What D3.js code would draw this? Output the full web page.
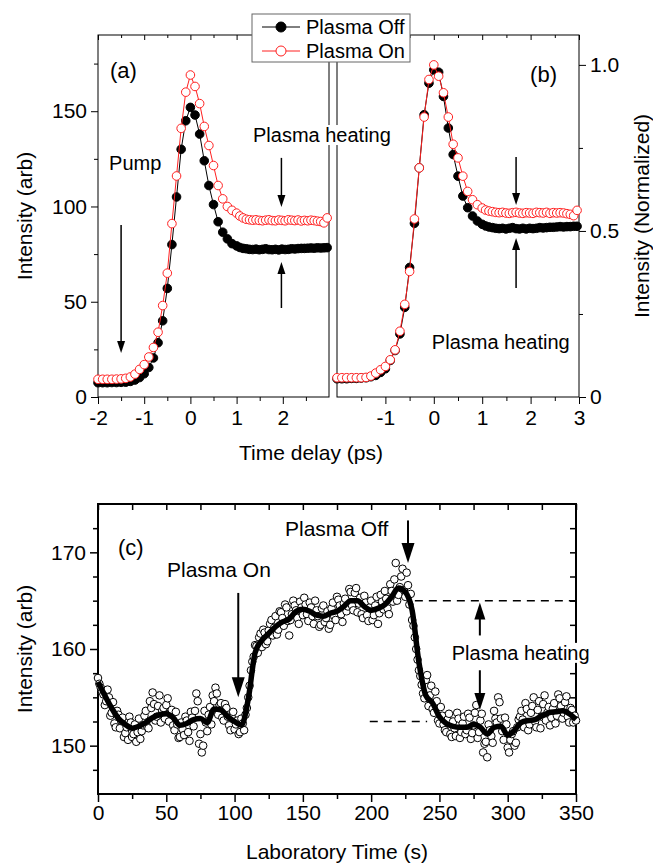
<!DOCTYPE html>
<html><head><meta charset="utf-8">
<script src="https://cdn.jsdelivr.net/npm/d3@7"></script>
<style>
html,body{margin:0;padding:0;background:#fff;}
svg{display:block;font-family:"Liberation Sans",Arial,sans-serif;}
</style></head><body>
<svg id="c" width="653" height="863"></svg>
<script>
// ---------- DATA ----------
// Panels (a),(b): time delay (ps)
const delay = [-2.0,-1.9,-1.8,-1.7,-1.6,-1.5,-1.4,-1.3,-1.2,-1.1,-1.0,-0.9,-0.8,-0.7,-0.6,-0.5,-0.4,-0.3,-0.2,-0.1,0.0,0.1,0.2,0.3,0.4,0.5,0.6,0.7,0.8,0.9,1.0,
  1.07,1.14,1.21,1.28,1.35,1.42,1.49,1.56,1.63,1.70,1.77,1.84,1.91,1.98,2.05,2.12,2.19,2.26,2.33,2.40,2.47,2.54,2.61,2.68,2.75,2.82,2.89,2.96];
// (a) Intensity (arb)
const offA = [7.5,7.5,7.5,7.6,7.6,7.7,7.8,8.2,8.9,10.2,12.2,15.5,20.5,28.5,40,57,80,105,130,145,152,148,138,124,111,101,92,86.5,83,80.5,79.3,
  78.5,78,77.8,77.5,77.4,77.6,77.3,77.5,77.8,77.4,77.3,77.5,77.2,77.6,77.4,77.5,77.8,77.7,77.9,78,78,78.1,78.2,78.1,78.3,78.2,78.3,78.4];
const onA = [9.3,9.3,9.3,9.3,9.4,9.5,9.8,10.5,12,14.5,17,21,26,34,48,65,91,116,141,160,169,163,154,142,132,121.5,111,104,100,98,96.5,
  95,94,93.3,93,92.8,93,92.7,92.5,92.8,93,92.6,92.5,92.9,92.7,92.5,93,92.8,92.6,92.9,92.4,92.7,92.5,92.8,92.6,92.3,92.1,91.4,94];
// (b) Intensity (normalized)
const offB = [0.055,0.055,0.055,0.056,0.056,0.057,0.058,0.061,0.065,0.074,0.085,0.11,0.14,0.19,0.27,0.39,0.523,0.69,0.85,0.945,0.985,0.978,0.905,0.81,0.73,0.665,0.605,0.57,0.545,0.53,0.52,
  0.515,0.512,0.51,0.508,0.507,0.508,0.506,0.508,0.51,0.507,0.506,0.508,0.506,0.508,0.507,0.508,0.51,0.509,0.51,0.511,0.511,0.512,0.513,0.512,0.513,0.513,0.514,0.514];
const onB = [0.058,0.058,0.058,0.058,0.058,0.058,0.059,0.063,0.072,0.082,0.092,0.112,0.142,0.198,0.279,0.378,0.536,0.69,0.843,0.956,1.0,0.966,0.916,0.843,0.761,0.72,0.665,0.619,0.594,0.579,0.569,
  0.563,0.56,0.558,0.556,0.555,0.556,0.554,0.553,0.555,0.556,0.554,0.553,0.555,0.554,0.553,0.556,0.555,0.554,0.556,0.553,0.555,0.554,0.555,0.554,0.552,0.55,0.546,0.562];

// Panel (c): laboratory time scan, raw samples at even seconds
const cRawEven = [157.0,156.0,155.3,154.6,155.0,153.4,152.3,153.6,151.8,152.9,151.3,150.6,152.4,151.2,150.4,152.8,151.5,153.1,152.0,154.6,
  155.5,152.6,154.1,152.4,153.9,154.2,152.5,153.7,151.6,152.2,150.9,151.7,153.0,151.4,153.5,152.0,155.4,150.2,149.3,153.6,
  151.5,154.0,155.2,156.0,153.2,154.4,152.6,153.9,152.1,152.9,151.7,152.6,151.4,152.3,153.2,155.0,157.8,159.2,160.3,161.2,
  160.2,161.7,160.8,162.6,161.4,163.4,162.0,163.8,162.4,164.3,161.4,163.6,164.5,163.2,164.9,163.5,164.6,162.9,164.3,162.6,
  164.0,162.3,164.2,162.8,163.9,162.5,164.8,163.0,165.1,163.6,164.7,163.9,166.2,164.5,165.8,163.8,165.3,163.2,164.8,162.9,
  165.0,163.5,165.4,163.7,164.9,166.0,164.2,166.7,164.9,168.9,165.6,167.5,166.1,167.9,164.6,163.0,161.2,158.9,157.2,155.4,
  156.8,154.1,156.2,153.4,154.6,152.3,153.1,151.6,152.7,151.2,152.5,151.0,152.8,151.4,153.0,151.6,152.9,151.3,153.4,150.8,
  152.6,149.3,150.4,152.2,151.0,153.6,152.4,154.5,151.5,152.9,149.8,150.6,151.5,150.3,152.7,153.6,151.9,153.8,152.2,154.1,
  152.5,153.7,151.8,154.3,152.6,154.0,152.9,154.4,153.1,154.9,152.8,154.5,153.0,153.9,152.4,152.6];
// raw samples at odd seconds
const cRawOdd = [156.4,155.6,154.2,155.8,153.1,154.5,151.9,153.2,152.6,150.9,151.9,153.0,150.9,152.2,151.4,150.7,152.1,153.6,151.8,153.9,
  154.3,153.0,155.2,153.6,152.8,154.9,153.4,152.1,153.5,150.8,152.4,151.1,152.6,150.5,152.9,153.6,154.6,151.2,150.0,152.4,
  153.2,152.2,154.6,155.4,154.2,152.9,154.3,153.0,151.6,153.5,152.2,151.2,152.8,151.6,153.9,156.2,158.7,160.4,159.6,161.6,
  162.0,160.5,161.9,163.0,162.2,161.5,163.9,163.2,164.6,162.9,163.0,165.0,164.0,162.6,164.3,165.3,163.6,164.8,163.4,165.0,
  163.4,162.5,164.5,163.2,162.1,164.2,163.4,165.4,164.5,162.8,165.2,164.4,165.9,164.0,166.3,164.7,163.6,165.5,163.5,164.3,
  163.0,164.5,162.6,165.6,164.1,165.2,163.6,166.0,167.2,165.0,166.4,168.3,165.4,166.6,165.7,162.4,160.0,157.8,156.3,154.9,
  157.3,155.2,153.8,155.6,152.6,154.0,152.2,151.4,153.3,150.9,151.8,153.4,150.8,152.3,151.2,153.3,150.7,152.1,154.2,151.4,
  153.3,150.2,148.8,151.6,150.3,152.8,155.0,152.8,150.6,152.2,149.3,151.2,150.0,151.9,153.0,152.7,154.4,151.6,153.4,155.0,
  151.9,154.6,153.0,155.2,153.4,152.1,153.8,152.3,155.3,154.1,153.4,155.1,152.4,153.7,153.1];
// smoothed trace every 5 s
const cSmooth = [156.6,155.2,153.9,152.8,152.2,151.8,152.0,152.4,152.9,153.2,153.3,152.9,152.1,152.3,152.7,152.8,152.4,153.8,153.7,153.0,
  152.5,152.1,154.8,159.6,160.9,161.6,162.3,162.8,163.1,163.9,164.1,163.9,163.5,163.4,163.7,163.9,164.4,165.0,165.0,164.4,
  164.0,164.2,164.6,165.4,166.3,165.9,164.0,158.6,155.2,154.4,153.0,152.3,152.0,151.9,151.9,152.2,151.9,151.2,151.9,152.0,
  151.1,151.6,152.4,152.6,152.7,153.1,153.4,153.5,153.6,153.3,152.7];
const cEvenT = d3.range(0, 351, 2);
const cOddT = d3.range(1, 350, 2);
const cSmoothT = d3.range(0, 351, 5);

// tick values
const xTicksA = [-2,-1,0,1,2], xMinorA = [-1.5,-0.5,0.5,1.5,2.5];
const yTicksA = [0,50,100,150], yMinorA = [25,75,125,175];
const xTicksB = [-1,0,1,2,3], xMinorB = [-1.5,-0.5,0.5,1.5,2.5];
const yTicksB = [0,0.5,1.0], yMinorB = [0.25,0.75];
const xTicksC = [0,50,100,150,200,250,300,350], xMinorC = [25,75,125,175,225,275,325];
const yTicksC = [150,160,170], yMinorC = [147.5,152.5,155,157.5,162.5,165,167.5,172.5];

// ---------- DRAWING ----------
const svg = d3.select('#c');
const FONT = 21;
const xa = d3.scaleLinear().domain([-2,3]).range([98,329]);
const ya = d3.scaleLinear().domain([0,190]).range([397,35]);
const xb = d3.scaleLinear().domain([-2,3]).range([337,579]);
const yb = d3.scaleLinear().domain([0,1.09]).range([397,35]);
const xc = d3.scaleLinear().domain([0,350]).range([98,576]);
const yc = d3.scaleLinear().domain([145,175]).range([794,504]);

function styleAxis(g){
  g.select('.domain').remove();
  g.attr('font-size', FONT).attr('font-family', '"Liberation Sans",Arial,sans-serif');
  g.selectAll('text').attr('fill','#000');
  return g;
}
function axis(gen, scale, majors, minors, pos, fmt, sizeMaj, sizeMin, sw, showLabels, pad){
  const gM = svg.append('g').attr('transform', pos);
  const a1 = gen(scale).tickValues(majors).tickSize(sizeMaj).tickPadding(pad || 4)
     .tickFormat(showLabels ? fmt : () => '');
  gM.call(a1); styleAxis(gM); gM.selectAll('line').attr('stroke-width', sw);
  if (minors && minors.length){
    const gm = svg.append('g').attr('transform', pos);
    gm.call(gen(scale).tickValues(minors).tickSize(sizeMin).tickFormat(() => ''));
    styleAxis(gm); gm.selectAll('line').attr('stroke-width', sw);
  }
  return gM;
}
const fmtPlain = d => String(d);
const fmtB = d => d === 0 ? '0' : d3.format('.1f')(d);

// ---- panel (a) ----
axis(d3.axisBottom, xa, xTicksA, xMinorA, 'translate(0,397)', fmtPlain, 7, 4, 1, true, 6);
axis(d3.axisLeft, ya, yTicksA, yMinorA, 'translate(98,0)', fmtPlain, 7, 4, 1, true);
axis(d3.axisTop, xa, xTicksA, xMinorA, 'translate(0,35)', fmtPlain, -5, -3, 1, false);
// ---- panel (b) ----
axis(d3.axisBottom, xb, xTicksB, xMinorB, 'translate(0,397)', fmtPlain, 7, 4, 1, true, 6);
axis(d3.axisRight, yb, yTicksB, yMinorB, 'translate(579,0)', fmtB, 7, 4, 1, true);
axis(d3.axisTop, xb, xTicksB, xMinorB, 'translate(0,35)', fmtPlain, -5, -3, 1, false);
// ---- panel (c) ----
axis(d3.axisBottom, xc, xTicksC, xMinorC, 'translate(0,794)', fmtPlain, 8, 5, 1.5, true, 3);
axis(d3.axisLeft, yc, yTicksC, yMinorC, 'translate(98,0)', fmtPlain, 8, 5, 1.5, true);
axis(d3.axisTop, xc, xTicksC, xMinorC, 'translate(0,504)', fmtPlain, -6, -6, 1.5, false);
axis(d3.axisRight, yc, yTicksC, yMinorC, 'translate(576,0)', fmtPlain, -6, -6, 1.5, false);

// frames
function frame(x, y, sw){
  svg.append('rect').attr('x', x.range()[0]).attr('y', y.range()[1])
    .attr('width', x.range()[1]-x.range()[0]).attr('height', y.range()[0]-y.range()[1])
    .attr('fill','none').attr('stroke','#000').attr('stroke-width', sw);
}
frame(xa, ya, 1); frame(xb, yb, 1); frame(xc, yc, 2);

// series for (a) and (b)
function series(x, y, vals, color, filled){
  const pts = delay.map((t,i) => [t, vals[i]]);
  const g = svg.append('g');
  g.append('path').datum(pts)
    .attr('d', d3.line().x(d => x(d[0])).y(d => y(d[1])))
    .attr('fill','none').attr('stroke', color).attr('stroke-width', 1);
  g.selectAll('circle').data(pts).join('circle')
    .attr('cx', d => x(d[0])).attr('cy', d => y(d[1])).attr('r', 4.3)
    .attr('fill', filled ? color : '#fff').attr('stroke', color).attr('stroke-width', 1);
}
series(xa, ya, offA, '#000', true);
series(xa, ya, onA, '#ff2020', false);
series(xb, yb, offB, '#000', true);
series(xb, yb, onB, '#ff2020', false);

// panel (c) data
const rawPts = cRawEven.map((v,i) => [cEvenT[i], v])
  .concat(cRawOdd.map((v,i) => [cOddT[i], v]))
  .filter(d => d[0] !== undefined && d[1] !== undefined)
  .sort((p,q) => p[0]-q[0]);
const gC = svg.append('g');
gC.selectAll('circle').data(rawPts).join('circle')
  .attr('cx', d => xc(d[0])).attr('cy', d => yc(d[1])).attr('r', 3.8)
  .attr('fill','#fff').attr('stroke','#000').attr('stroke-width', 1);
gC.append('path').datum(cSmooth.map((v,i) => [cSmoothT[i], v]))
  .attr('d', d3.line().curve(d3.curveMonotoneX).x(d => xc(d[0])).y(d => yc(d[1])))
  .attr('fill','none').attr('stroke','#000').attr('stroke-width', 5.5).attr('stroke-linejoin','round');

// dashed guide lines in (c)
function dashed(x0, x1, yv){
  svg.append('line').attr('x1', xc(x0)).attr('x2', xc(x1)).attr('y1', yc(yv)).attr('y2', yc(yv))
    .attr('stroke','#000').attr('stroke-width', 1.5).attr('stroke-dasharray','8,6');
}
dashed(232, 350, 165);
dashed(199, 241, 152.5);

// arrows
function arrow(px, pyFrom, pyTo, headL, headW, sw){
  const dir = pyTo > pyFrom ? 1 : -1;
  svg.append('line').attr('x1', px).attr('x2', px).attr('y1', pyFrom).attr('y2', pyTo - dir*headL*0.8)
    .attr('stroke','#000').attr('stroke-width', sw);
  svg.append('path').attr('d', `M${px},${pyTo} L${px-headW/2},${pyTo-dir*headL} L${px+headW/2},${pyTo-dir*headL} Z`)
    .attr('fill','#000');
}
function label(txt, px, py, size, bg){
  const t = svg.append('text').attr('x', px).attr('y', py).attr('font-size', size)
    .attr('dominant-baseline','central').attr('fill','#000').text(txt);
  if (bg){
    const bb = t.node().getBBox();
    svg.insert('rect', () => t.node()).attr('x', bb.x-2).attr('y', bb.y+1).attr('width', bb.width+4).attr('height', bb.height-2)
      .attr('fill','#fff');
  }
  return t;
}
// (a)
label('(a)', xa(-1.74), ya(171.6), 22);
label('Pump', xa(-1.76), ya(122.8), 20);
arrow(xa(-1.5), ya(90.3), ya(23.1), 12, 8, 1.5);
label('Plasma heating', xa(1.355), ya(137.5), 20, true);
arrow(xa(1.97), ya(125.5), ya(99.7), 12, 8, 1.5);
arrow(xa(1.97), ya(46.7), ya(70.9), 12, 8, 1.5);
// (b)
label('(b)', xb(1.99), yb(0.97), 22);
arrow(xb(1.70), yb(0.723), yb(0.578), 12, 8, 1.5);
arrow(xb(1.70), yb(0.328), yb(0.479), 12, 8, 1.5);
label('Plasma heating', xb(-0.04), yb(0.166), 20);
// (c)
label('(c)', xc(14.6), yc(170.55), 22);
label('Plasma On', xc(50.5), yc(168.2), 21);
arrow(xc(102.7), yc(165.8), yc(155.0), 20, 13, 2);
label('Plasma Off', xc(136.9), yc(172.5), 21);
arrow(xc(227), yc(173.3), yc(168.9), 20, 13, 2);
label('Plasma heating', xc(259), yc(159.6), 20, true);
arrow(xc(279.6), yc(161.4), yc(164.8), 17, 11, 2);
arrow(xc(279.6), yc(157.8), yc(153.7), 17, 11, 2);

// axis titles
function title(txt, px, py, rot){
  svg.append('text').attr('transform', `translate(${px},${py}) rotate(${rot})`)
    .attr('text-anchor','middle').attr('dominant-baseline','central')
    .attr('font-size', FONT).attr('fill','#000').text(txt);
}
title('Intensity (arb)', 24, 216, -90);
title('Intensity (Normalized)', 641, 216, -90);
title('Time delay (ps)', 311, 452, 0);
title('Intensity (arb)', 24, 649, -90);
title('Laboratory Time (s)', 337, 851, 0);

// legend
const lg = svg.append('g');
lg.append('rect').attr('x', 252).attr('y', 14).attr('width', 158).attr('height', 48)
  .attr('fill','#fff').attr('stroke','#666').attr('stroke-width', 1);
const legendItems = [
  {name:'Plasma Off', color:'#000', filled:true, y:27},
  {name:'Plasma On', color:'#ff2020', filled:false, y:51}
];
legendItems.forEach(it => {
  lg.append('line').attr('x1', 262).attr('x2', 300).attr('y1', it.y).attr('y2', it.y)
    .attr('stroke', it.color).attr('stroke-width', 1);
  lg.append('circle').attr('cx', 281).attr('cy', it.y).attr('r', 5)
    .attr('fill', it.filled ? it.color : '#fff').attr('stroke', it.color).attr('stroke-width', 1);
  lg.append('text').attr('x', 306).attr('y', it.y).attr('dominant-baseline','central')
    .attr('font-size', 20).attr('fill','#000').text(it.name);
});
</script>
</body></html>
